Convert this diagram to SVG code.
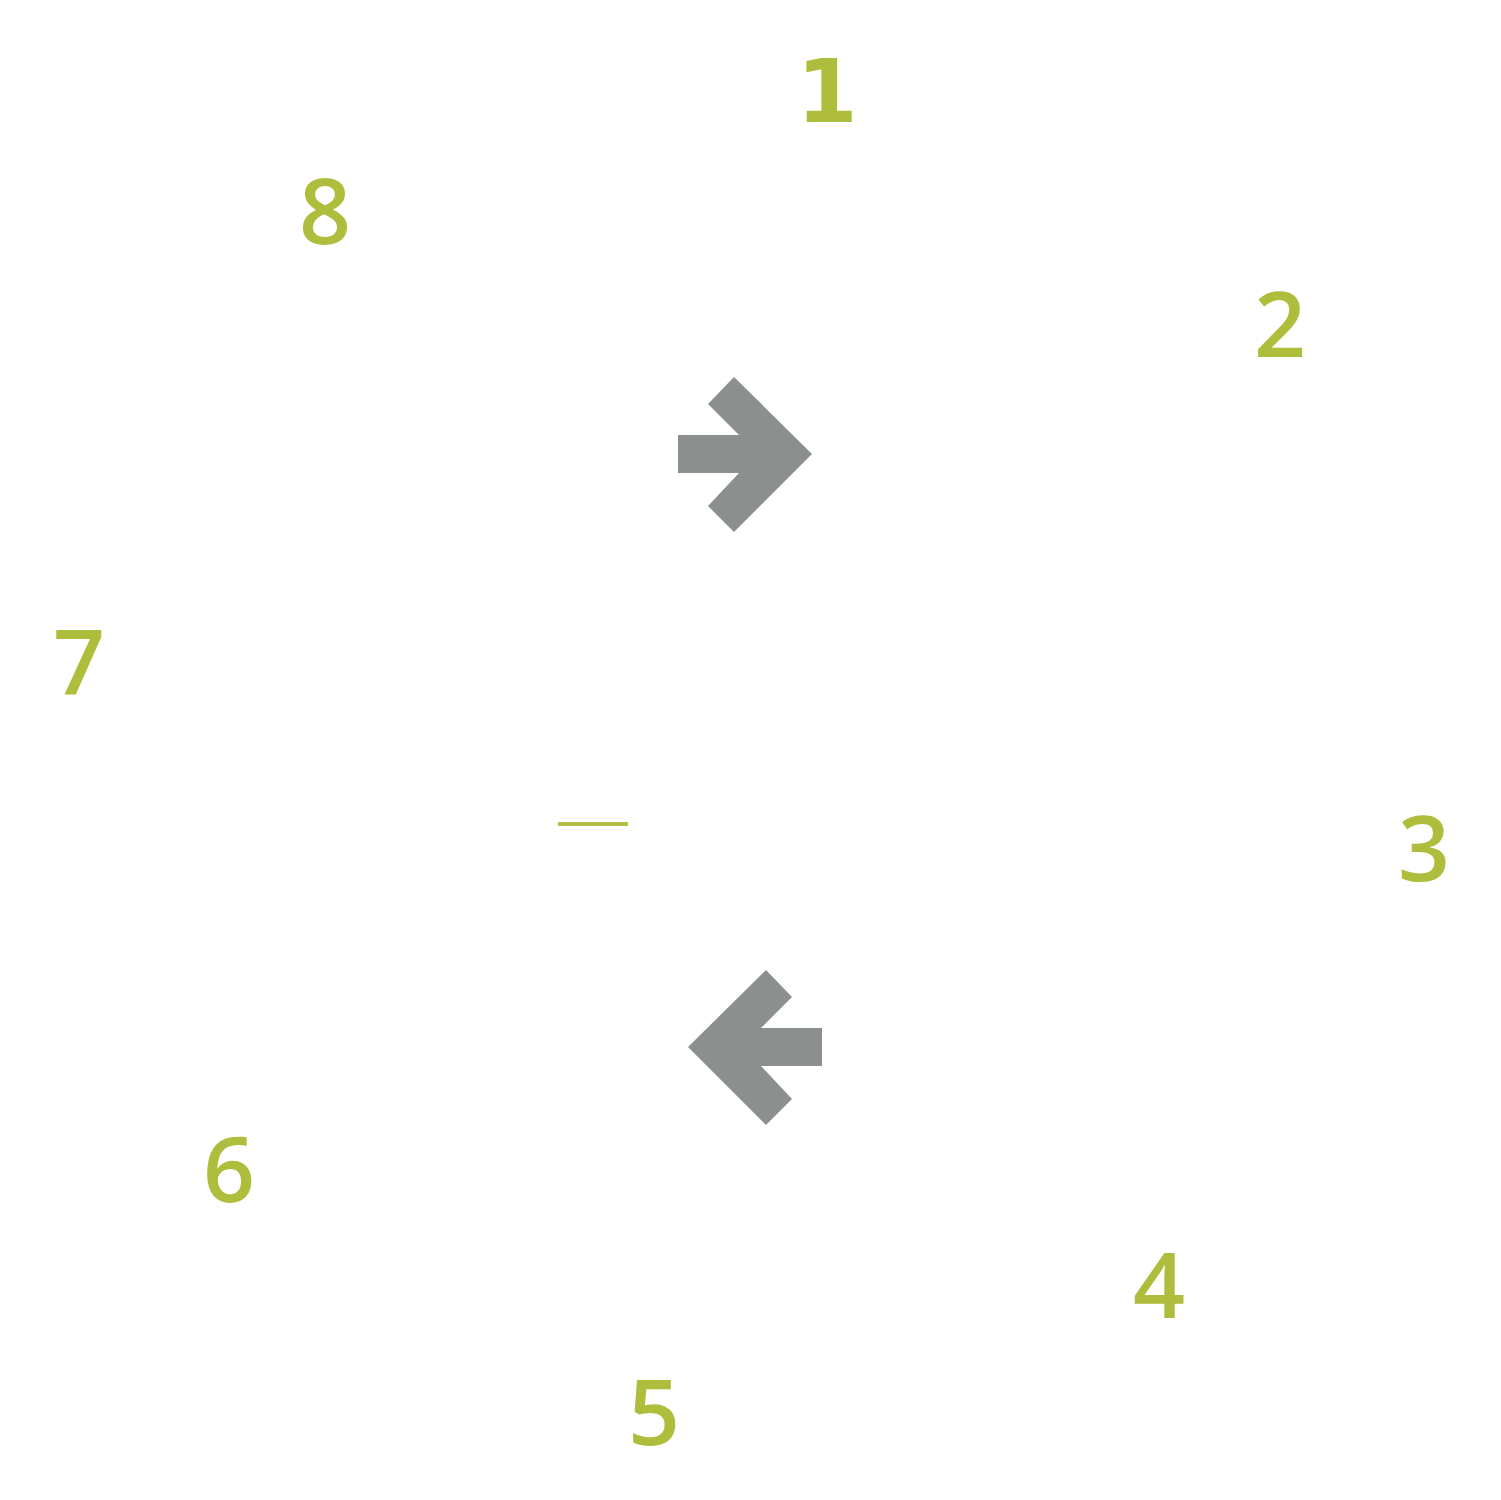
<svg xmlns="http://www.w3.org/2000/svg" width="1501" height="1500" viewBox="0 0 1501 1500">
<style>
.num{font-family:"Open Sans","Liberation Sans",sans-serif;font-weight:600;font-size:91px;fill:#afbd3c;text-anchor:middle}
.one{font-family:"DejaVu Sans","Open Sans",sans-serif;font-weight:700;font-size:88px}
.arrow{fill:#8b908f}
</style>
<defs>
<path id="arr" d="M678,435 L739,435 L708,404 L734,377 L812,454 L734,532 L708,506 L739,473 L678,473 Z"/>
</defs>
<rect width="1501" height="1500" fill="#ffffff"/>
<g id="n1"><text class="num one" x="827" y="122">1</text></g>
<g id="n2"><text class="num" x="1280" y="357">2</text></g>
<g id="n3"><text class="num" x="1424" y="881">3</text></g>
<g id="n4"><text class="num" x="1159" y="1318">4</text></g>
<g id="n5"><text class="num" x="654" y="1445">5</text></g>
<g id="n6"><text class="num" x="229" y="1202">6</text></g>
<g id="n7"><text class="num" x="79" y="695">7</text></g>
<g id="n8"><text class="num" x="325" y="244">8</text></g>
<g id="connectors">
<use href="#arr" class="arrow"/>
<use href="#arr" class="arrow" transform="translate(1500,593) scale(-1,1)"/>
<line x1="558" y1="824" x2="628" y2="824" stroke="#b3c045" stroke-width="4"/>
</g>
</svg>
